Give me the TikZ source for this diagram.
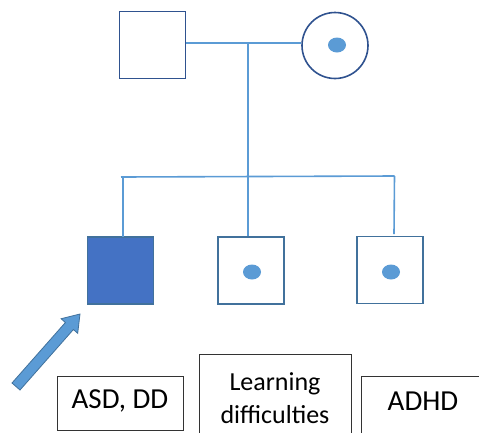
\documentclass[tikz,border=0pt]{standalone}
\usepackage{fontspec}
\setmainfont{Carlito}
\usetikzlibrary{shapes.geometric}
\definecolor{lineblue}{HTML}{5B9BD5}
\definecolor{edgeblue}{HTML}{41719C}
\definecolor{darkedge}{HTML}{2F528F}
\definecolor{fillblue}{HTML}{4472C4}
\tikzset{
  person/.style={draw=edgeblue, line width=1.6pt, minimum width=66pt, minimum height=67pt, inner sep=0pt},
  carrier/.style={ellipse, fill=lineblue, minimum width=18pt, minimum height=15pt, inner sep=0pt},
  link/.style={draw=lineblue, line width=1.6pt},
  labelbox/.style={draw=black!80, line width=0.8pt, inner sep=0pt},
  labeltext/.style={font=\fontsize{29}{33}\selectfont, inner sep=0pt, align=center}
}
\begin{document}
\begin{tikzpicture}[x=1pt,y=-1pt]
\useasboundingbox (0,0) rectangle (479,432);
% parents
\node[person, draw=darkedge] (father) at (152.5,45) {};
\node[circle, draw=darkedge, line width=1.6pt, minimum size=66pt, inner sep=0pt] (mother) at (335,45.5) {};
\node[carrier] (mdot) at (337,45) {};
% children
\node[person, fill=fillblue, draw=edgeblue] (c1) at (120.5,270.5) {};
\node[person] (c2) at (251,270.5) {};
\node[carrier] (c2dot) at (252,272) {};
\node[person] (c3) at (390,270) {};
\node[carrier] (c3dot) at (391,272) {};
% connectors
\coordinate (mar) at (248,43);
\coordinate (sibL) at (121,177);
\coordinate (sibR) at (394.5,176);
\draw[link] (father.east |- mar) -- (mar) -- (mother.west |- mar);
\draw[link] (mar) -- (mar |- c2.north);
\draw[link] (sibL) -- (sibR);
\draw[link] (123,177) -- (123,237);
\draw[link] (sibR) -- (394,234);
% proband arrow
\filldraw[fill=lineblue, draw=edgeblue, line width=0.8pt, line join=miter]
  (12,383) -- (65.4,322.5) -- (61.1,318.7) -- (80,314) -- (77.7,333.3) -- (73.4,329.5) -- (20,390) -- cycle;
% label boxes
\node[labelbox, minimum width=126pt, minimum height=54pt] (b1) at (120,403) {};
\node[labeltext] (t1) at (120,401) {ASD, DD};
\node[labelbox, minimum width=152pt, minimum height=90pt] (b2) at (275,399) {};
\node[labeltext, font=\fontsize{26}{33}\selectfont] (t2) at (275,398) {Learning\\difficulties};
\node[labelbox, minimum width=124pt, minimum height=80pt] (b3) at (423,416) {};
\node[labeltext] (t3) at (423,401) {ADHD};
\end{tikzpicture}
\end{document}
